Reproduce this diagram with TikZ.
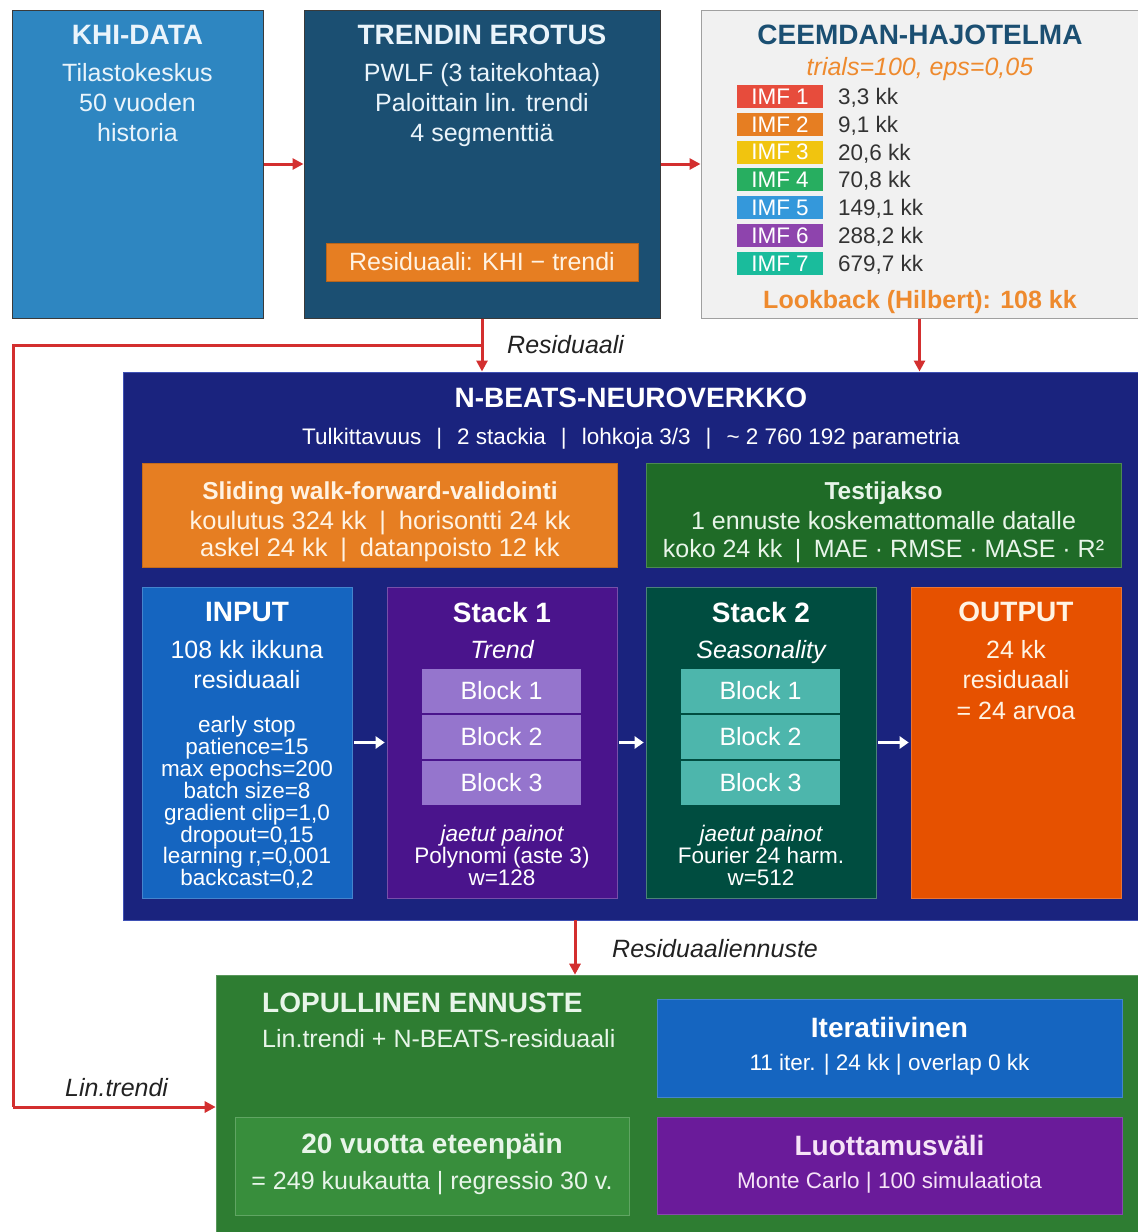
\documentclass[tikz,border=0pt]{standalone}
\usepackage{fontspec}
\setmainfont{Liberation Sans}
\usetikzlibrary{arrows.meta}

\definecolor{khiblue}{HTML}{2E86C1}
\definecolor{trendblue}{HTML}{1B4F72}
\definecolor{accentorange}{HTML}{E67E22}
\definecolor{lightorange}{HTML}{EE8A2E}
\definecolor{ceembg}{HTML}{F1F1F1}
\definecolor{ceemborder}{HTML}{A0A0A0}
\definecolor{darkborder}{HTML}{3A3A3A}
\definecolor{imfa}{HTML}{E74C3C}
\definecolor{imfb}{HTML}{E67E22}
\definecolor{imfc}{HTML}{F1C40F}
\definecolor{imfd}{HTML}{27AE60}
\definecolor{imfe}{HTML}{3498DB}
\definecolor{imff}{HTML}{8E44AD}
\definecolor{imfg}{HTML}{1ABC9C}
\definecolor{valgray}{HTML}{333333}
\definecolor{nbnavy}{HTML}{1A237E}
\definecolor{nbborder}{HTML}{3F51B5}
\definecolor{testgreen}{HTML}{1F6B27}
\definecolor{inputblue}{HTML}{1565C0}
\definecolor{stackpurple}{HTML}{4A148C}
\definecolor{blockpurple}{HTML}{9575CD}
\definecolor{stackteal}{HTML}{004D40}
\definecolor{blockteal}{HTML}{4DB6AC}
\definecolor{outorange}{HTML}{E65100}
\definecolor{finalgreen}{HTML}{2E7D32}
\definecolor{horizongreen}{HTML}{388E3C}
\definecolor{iterblue}{HTML}{1565C0}
\definecolor{cipurple}{HTML}{6A1B9A}
\definecolor{arrowred}{HTML}{D32F2F}
\definecolor{labelgray}{HTML}{222222}
\definecolor{palecyan}{HTML}{EAF4FB}
\definecolor{palegreen}{HTML}{E8F5E9}
\definecolor{palepink}{HTML}{F6E3F7}
\definecolor{cream}{HTML}{FFF3E3}

\newcommand\fsz[2]{\fontsize{#1}{#2}\selectfont}

\begin{document}
\begin{tikzpicture}[x=1pt,y=-1pt,
  box/.style={rectangle, inner sep=0pt, line width=1pt},
  lbl/.style={inner sep=0pt, align=center},
  ttl/.style={lbl, font=\fsz{28}{30}\bfseries},
  subttl/.style={lbl, font=\fsz{24.5}{27}\bfseries},
  body/.style={lbl, font=\fsz{25}{30}},
  small/.style={lbl, font=\fsz{22.5}{21.9}},
  edgelbl/.style={inner sep=0pt, font=\fsz{25}{30}\itshape, text=labelgray},
  redarr/.style={draw=arrowred, line width=3pt, -{Triangle[length=11pt,width=11pt]}},
  redline/.style={draw=arrowred, line width=3pt},
  whitearr/.style={draw=white, line width=3.5pt, -{Triangle[length=9pt,width=12pt]}, shorten <=2pt, shorten >=2pt},
  imfbox/.style={rectangle, inner sep=0pt, minimum width=86, minimum height=23, text=white, font=\fsz{22.5}{24}},
  imfval/.style={inner sep=0pt, anchor=base west, text=valgray, font=\fsz{22.5}{24}},
  blockbox/.style={rectangle, inner sep=0pt, minimum width=159, minimum height=44, text=white, font=\fsz{25}{30}},
]
\useasboundingbox (0,0) rectangle (1138,1232);
\fill[white] (0,0) rectangle (1138,1232);

% ---------- top row ----------
\node[box, fill=khiblue, draw=darkborder, minimum width=251, minimum height=308] (khi) at (137.5,164) {};
\node[ttl, text=palecyan, anchor=north] (khiT) at (137.5,25) {KHI-DATA};
\node[body, text=palecyan, anchor=north] (khiB) at (137.5,63) {Tilastokeskus\\50 vuoden\\historia};

\node[box, fill=trendblue, draw=darkborder, minimum width=356, minimum height=308] (trend) at (482,164) {};
\node[ttl, text=palecyan, anchor=north] (trendT) at (482,25) {TRENDIN EROTUS};
\node[body, text=palecyan, anchor=north] (trendB) at (482,63) {PWLF (3 taitekohtaa)\\Paloittain lin. trendi\\4 segmenttiä};
\node[box, fill=accentorange, draw=accentorange!80!black, line width=0.6pt, minimum width=312, minimum height=38, text=cream, font=\fsz{25}{30}] (resid) at (482,262) {Residuaali: KHI − trendi};

\node[box, fill=ceembg, draw=ceemborder, minimum width=437, minimum height=308] (ceem) at (919.5,164) {};
\node[ttl, text=trendblue, anchor=north] (ceemT) at (920,25) {CEEMDAN-HAJOTELMA};
\node[inner sep=0pt, anchor=base, text=lightorange, font=\fsz{25}{30}\itshape] (ceemP) at (920,75) {trials=100, eps=0,05};
\foreach \k/\c/\v [count=\i from 0] in {1/imfa/{3,3 kk},2/imfb/{9,1 kk},3/imfc/{20,6 kk},4/imfd/{70,8 kk},5/imfe/{149,1 kk},6/imff/{288,2 kk},7/imfg/{679,7 kk}}{
  \node[imfbox, fill=\c] (imf\k) at (780,96.5+27.8*\i) {IMF \k};
  \node[imfval] (imfv\k) at (838,104.5+27.8*\i) {\v};
}
\node[inner sep=0pt, anchor=base, text=lightorange, font=\fsz{25}{30}\bfseries] (look) at (920,308) {Lookback (Hilbert): 108 kk};

% ---------- N-BEATS ----------
\node[box, fill=nbnavy, draw=nbborder, minimum width=1015, minimum height=548] (nb) at (630.5,646) {};
\node[ttl, text=white, anchor=north] (nbT) at (631,388) {N-BEATS-NEUROVERKKO};
\node[inner sep=0pt, anchor=base, text=white, font=\fsz{22.5}{24}] (nbS) at (631,444) {Tulkittavuus\enspace\,|\enspace\,2 stackia\enspace\,|\enspace\,lohkoja 3/3\enspace\,|\enspace\,\textasciitilde\ 2 760 192 parametria};

\node[box, fill=accentorange, draw=accentorange!85!black, line width=0.6pt, minimum width=475, minimum height=104] (slide) at (379.5,515) {};
\node[subttl, text=cream, anchor=base] (slideT) at (380,499) {Sliding walk-forward-validointi};
\node[body, text=cream, anchor=north, font=\fsz{25.5}{27}] (slideB) at (380,511) {koulutus 324 kk\enspace|\enspace horisontti 24 kk\\askel 24 kk\enspace|\enspace datanpoisto 12 kk};

\node[box, fill=testgreen, draw=testgreen!80!white, line width=0.6pt, minimum width=475, minimum height=104] (test) at (883.5,515) {};
\node[subttl, text=palegreen, anchor=base] (testT) at (883.5,499) {Testijakso};
\node[body, text=palegreen, anchor=north, font=\fsz{25}{28}] (testB) at (883.5,511) {1 ennuste koskemattomalle datalle\\koko 24 kk\enspace|\enspace MAE · RMSE · MASE · R²};

% input column
\node[box, fill=inputblue, draw=inputblue!80!white, line width=0.6pt, minimum width=210, minimum height=311] (inp) at (247,742.5) {};
\node[ttl, text=white, anchor=north] (inpT) at (247,602) {INPUT};
\node[body, text=white, anchor=north] (inpB) at (247,640) {108 kk ikkuna\\residuaali};
\node[small, text=white, anchor=north] (inpP) at (247,716) {early stop\\patience=15\\max epochs=200\\batch size=8\\gradient clip=1,0\\dropout=0,15\\learning r,=0,001\\backcast=0,2};

% stack 1
\node[box, fill=stackpurple, draw=stackpurple!75!white, line width=0.6pt, minimum width=230, minimum height=311] (sa) at (502,742.5) {};
\node[ttl, text=white, anchor=north] (saT) at (502,602) {Stack 1};
\node[inner sep=0pt, anchor=base, text=white, font=\fsz{25}{30}\itshape] (saS) at (502,658) {Trend};
\node[blockbox, fill=blockpurple] (saA) at (501.5,691) {Block 1};
\node[blockbox, fill=blockpurple] (saB) at (501.5,737) {Block 2};
\node[blockbox, fill=blockpurple] (saC) at (501.5,783) {Block 3};
\node[small, text=white, anchor=north] (saN) at (502,825) {\itshape jaetut painot\\Polynomi (aste 3)\\w=128};

% stack 2
\node[box, fill=stackteal, draw=stackteal!70!white, line width=0.6pt, minimum width=230, minimum height=311] (sb) at (761,742.5) {};
\node[ttl, text=white, anchor=north] (sbT) at (761,602) {Stack 2};
\node[inner sep=0pt, anchor=base, text=white, font=\fsz{25}{30}\itshape] (sbS) at (761,658) {Seasonality};
\node[blockbox, fill=blockteal] (sbA) at (760.5,691) {Block 1};
\node[blockbox, fill=blockteal] (sbB) at (760.5,737) {Block 2};
\node[blockbox, fill=blockteal] (sbC) at (760.5,783) {Block 3};
\node[small, text=white, anchor=north] (sbN) at (761,825) {\itshape jaetut painot\\Fourier 24 harm.\\w=512};

% output
\node[box, fill=outorange, draw=outorange!80!white, line width=0.6pt, minimum width=210, minimum height=311] (out) at (1016,742.5) {};
\node[ttl, text=cream, anchor=north] (outT) at (1016,602) {OUTPUT};
\node[body, text=cream, anchor=north, font=\fsz{25}{30.5}] (outB) at (1016,640) {24 kk\\residuaali\\= 24 arvoa};

\draw[whitearr] (inp.east) -- (sa.west);
\draw[whitearr] (sa.east) -- (sb.west);
\draw[whitearr] (sb.east) -- (out.west);

% ---------- final forecast ----------
\node[box, fill=finalgreen, draw=finalgreen!80!white, line width=0.6pt, minimum width=922, minimum height=259] (fin) at (677,1104.5) {};
\node[inner sep=0pt, anchor=base west, text=palegreen, font=\fsz{28}{30}\bfseries] (finT) at (262,1012) {LOPULLINEN ENNUSTE};
\node[inner sep=0pt, anchor=base west, text=palegreen, font=\fsz{25}{30}] (finS) at (262,1047) {Lin.trendi + N-BEATS-residuaali};

\node[box, fill=horizongreen, draw=horizongreen!80!white, line width=0.6pt, minimum width=394, minimum height=98] (hor) at (432,1166) {};
\node[inner sep=0pt, anchor=base, text=palegreen, font=\fsz{28}{30}\bfseries] (horT) at (432,1153) {20 vuotta eteenpäin};
\node[inner sep=0pt, anchor=base, text=palegreen, font=\fsz{25}{30}] (horS) at (432,1189) {= 249 kuukautta | regressio 30 v.};

\node[box, fill=iterblue, draw=iterblue!80!white, line width=0.6pt, minimum width=465, minimum height=98] (iter) at (889.5,1048) {};
\node[inner sep=0pt, anchor=base, text=white, font=\fsz{28}{30}\bfseries] (iterT) at (889.5,1037) {Iteratiivinen};
\node[inner sep=0pt, anchor=base, text=white, font=\fsz{22.5}{24}] (iterS) at (889.5,1070) {11 iter. | 24 kk | overlap 0 kk};

\node[box, fill=cipurple, draw=cipurple!80!white, line width=0.6pt, minimum width=465, minimum height=97] (ci) at (889.5,1165.5) {};
\node[inner sep=0pt, anchor=base, text=palepink, font=\fsz{28}{30}\bfseries] (ciT) at (889.5,1155) {Luottamusväli};
\node[inner sep=0pt, anchor=base, text=palepink, font=\fsz{22.5}{24}] (ciS) at (889.5,1188) {Monte Carlo | 100 simulaatiota};

% ---------- connectors ----------
\draw[redarr] (khi.east) -- (trend.west);
\draw[redarr] (trend.east) -- (ceem.west);
\coordinate (split) at (trend.south |- 0,345);
\coordinate (leftTop) at (13,345);
\coordinate (leftBot) at (13,1107);
\draw[redarr] (trend.south) -- (trend.south |- nb.north);
\draw[redline] (split) -- (leftTop) -- (leftBot);
\draw[redarr] (leftBot) -- (leftBot -| fin.west);
\draw[redarr] (ceem.south) -- (ceem.south |- nb.north);
\coordinate (nbOut) at (575,920);
\draw[redarr] (nbOut) -- (nbOut |- fin.north);

\node[edgelbl, anchor=base west] (lblRes) at (507,353) {Residuaali};
\node[edgelbl, anchor=base west] (lblResF) at (612,957) {Residuaaliennuste};
\node[edgelbl, anchor=base west] (lblLin) at (65,1096) {Lin.trendi};
\end{tikzpicture}
\end{document}
